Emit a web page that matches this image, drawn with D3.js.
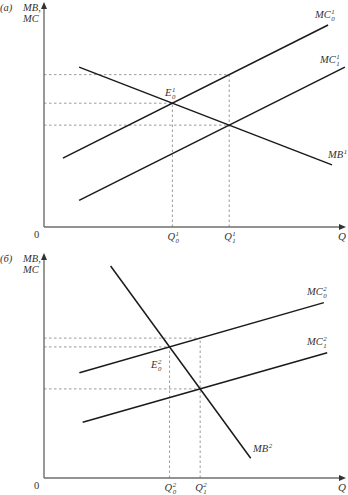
<!DOCTYPE html>
<html>
<head>
<meta charset="utf-8">
<script src="https://cdn.jsdelivr.net/npm/d3@7"></script>
<style>
  html, body { margin: 0; padding: 0; background: #fff; }
  svg { display: block; }
  text { font-family: "Liberation Serif", "DejaVu Serif", serif; font-style: italic; fill: #333; }
</style>
</head>
<body>
<script>
// ---- data (in abstract Q / price units, 0..10) ----
const panelLabels = ["(а)", "(б)"];
const yAxisLabels = ["MB,", "MC"];
const xAxisLabel = "Q";
const originLabel = "0";
// top panel curves
const mc0Top = [[0.63, 3.1], [9.47, 9.1]];
const mc1Top = [[1.17, 1.2], [10.03, 7.2]];
const mbTop  = [[1.17, 7.2], [9.6, 2.8]];
// bottom panel curves
const mc0Bot = [[1.18, 4.74], [9.33, 7.9]];
const mc1Bot = [[1.29, 2.51], [9.44, 5.64]];
const mbBot  = [[2.22, 9.55], [6.89, 0.89]];

const W = 348, H = 495;
const svg = d3.select("body").append("svg").attr("width", W).attr("height", H);

const x = d3.scaleLinear().domain([0, 10]).range([44, 344]);
const yTop = d3.scaleLinear().domain([0, 10]).range([227, 5]);
const yBot = d3.scaleLinear().domain([0, 10]).range([478, 256]);

function lineAt(seg, q) {
  const [[x1, y1], [x2, y2]] = seg;
  return y1 + (y2 - y1) * (q - x1) / (x2 - x1);
}
function intersect(a, b) {
  const [[ax1, ay1], [ax2, ay2]] = a, [[bx1, by1], [bx2, by2]] = b;
  const ma = (ay2 - ay1) / (ax2 - ax1), mb = (by2 - by1) / (bx2 - bx1);
  const q = (by1 - mb * bx1 - ay1 + ma * ax1) / (ma - mb);
  return [q, ay1 + ma * (q - ax1)];
}

function label(g, px, py, main, sup, sub, size) {
  const t = g.append("text").attr("x", px).attr("y", py).attr("font-size", size).text(main);
  const w = t.node().getComputedTextLength();
  if (sup !== null) g.append("text").attr("x", px + w + 0.5).attr("y", py - 4.5).attr("font-size", size * 0.65).text(sup);
  if (sub !== null) g.append("text").attr("x", px + w + 0.5).attr("y", py + 2.5).attr("font-size", size * 0.65).text(sub);
}

function panel(y, idx, mc0, mc1, mb, sup, opts) {
  const g = svg.append("g");
  const line = d3.line().x(d => x(d[0])).y(d => y(d[1]));
  const E0 = intersect(mc0, mb), E1 = intersect(mc1, mb);
  const topQ1 = lineAt(mc0, E1[0]);

  // dashed guides
  const dash = g.append("g").attr("stroke", "#9a9a9a").attr("stroke-width", 1).attr("stroke-dasharray", "2.5,2.5").attr("fill", "none");
  const guides = [
    [[0, topQ1], [E1[0], topQ1]],
    [[0, E0[1]], [E0[0], E0[1]]],
    [[0, E1[1]], [E1[0], E1[1]]],
    [[E0[0], 0], [E0[0], E0[1]]],
    [[E1[0], 0], [E1[0], topQ1]]
  ];
  guides.forEach(s => dash.append("path").attr("d", line(s)));

  // axes
  const ax = g.append("g").attr("stroke", "#6e6e6e").attr("stroke-width", 1.4).attr("fill", "none");
  const x0 = x(0), y0 = y(0), yTopPx = y(10) - 3, xEnd = x(10) + 1;
  ax.append("line").attr("x1", x0).attr("y1", y0).attr("x2", x0).attr("y2", yTopPx + 4);
  ax.append("line").attr("x1", x0).attr("y1", y0).attr("x2", xEnd - 4).attr("y2", y0);
  g.append("path").attr("d", `M${x0},${yTopPx} L${x0 - 3},${yTopPx + 7} L${x0 + 3},${yTopPx + 7} Z`).attr("fill", "#333");
  g.append("path").attr("d", `M${xEnd + 1},${y0} L${xEnd - 6},${y0 - 3} L${xEnd - 6},${y0 + 3} Z`).attr("fill", "#333");

  // curves
  const cv = g.append("g").attr("stroke", "#1a1a1a").attr("stroke-width", 1.5).attr("fill", "none");
  [mc0, mc1, mb].forEach(s => cv.append("path").attr("d", line(s)));

  // texts
  g.append("text").attr("x", 0).attr("y", yTopPx + 9).attr("font-size", 10.5).text(panelLabels[idx]);
  g.append("text").attr("x", 23).attr("y", yTopPx + 9).attr("font-size", 10.5).text(yAxisLabels[0]);
  g.append("text").attr("x", 23).attr("y", yTopPx + 20).attr("font-size", 10.5).text(yAxisLabels[1]);
  g.append("text").attr("x", 34).attr("y", y0 + 11).attr("font-size", 10.5).style("font-style", "normal").text(originLabel);
  g.append("text").attr("x", 338).attr("y", y0 + 13).attr("font-size", 11).text(xAxisLabel);

  label(g, x(E0[0]) - 5, y0 + 13, "Q", sup, "0", 10.5);
  label(g, x(E1[0]) - 5, y0 + 13, "Q", sup, "1", 10.5);
  label(g, opts.e[0], opts.e[1], "E", sup, "0", 10.5);
  label(g, opts.mc0[0], opts.mc0[1], "MC", sup, "0", 10.5);
  label(g, opts.mc1[0], opts.mc1[1], "MC", sup, "1", 10.5);
  label(g, opts.mb[0], opts.mb[1], "MB", sup, null, 10.5);
}

panel(yTop, 0, mc0Top, mc1Top, mbTop, "1",
  { e: [165, 96], mc0: [315, 18], mc1: [320, 63], mb: [328, 158] });
panel(yBot, 1, mc0Bot, mc1Bot, mbBot, "2",
  { e: [151, 368], mc0: [307, 295], mc1: [307, 345], mb: [253, 452] });
</script>
</body>
</html>
